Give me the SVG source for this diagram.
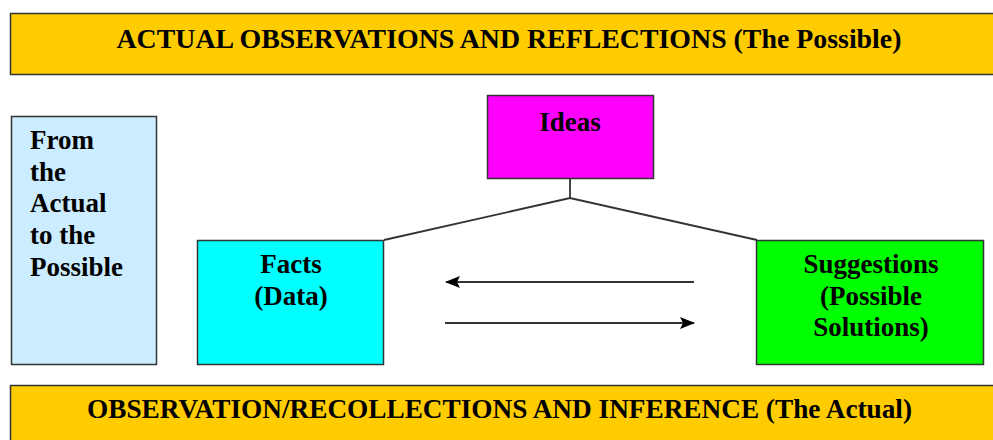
<svg xmlns="http://www.w3.org/2000/svg" width="993" height="440" viewBox="0 0 993 440">
  <style>
    .box { stroke: #333333; stroke-width: 1.5; }
    .banner { fill: #FFCC00; }
    .lbl { font-family: "Liberation Serif", "Times New Roman", serif; font-weight: bold; font-size: 27px; fill: #000000; }
    .mid { text-anchor: middle; }
    .conn { stroke: #333333; stroke-width: 1.8; fill: none; }
  </style>
  <defs>
    <marker id="arrow" viewBox="0 0 15 12" refX="14" refY="6" markerWidth="15" markerHeight="12" markerUnits="userSpaceOnUse" orient="auto">
      <path d="M0,0 L15,6 L0,12 L3,6 Z" fill="#000000"/>
    </marker>
  </defs>
  <rect width="993" height="440" fill="#FFFFFF"/>

  <g id="banner-top">
    <rect class="box banner" x="10.5" y="13.5" width="990" height="61"/>
    <text class="lbl mid" x="509" y="48" textLength="785" lengthAdjust="spacingAndGlyphs">ACTUAL OBSERVATIONS AND REFLECTIONS (The Possible)</text>
  </g>

  <g id="side-note">
    <rect class="box" x="11.5" y="116.5" width="145" height="248" fill="#CCECFF"/>
    <text class="lbl" x="30" y="149">From</text>
    <text class="lbl" x="30" y="181">the</text>
    <text class="lbl" x="30" y="212">Actual</text>
    <text class="lbl" x="30" y="244">to the</text>
    <text class="lbl" x="30" y="276">Possible</text>
  </g>

  <g id="connectors">
    <polyline class="conn" points="570,179 570,198"/>
    <polyline class="conn" points="384,240 570,198 757,240"/>
    <line class="conn" x1="694" y1="282" x2="446" y2="282" marker-end="url(#arrow)"/>
    <line class="conn" x1="445" y1="323" x2="694" y2="323" marker-end="url(#arrow)"/>
  </g>

  <g id="ideas">
    <rect class="box" x="487.5" y="95.5" width="166" height="83" fill="#FF00FF"/>
    <text class="lbl mid" x="570" y="131">Ideas</text>
  </g>

  <g id="facts">
    <rect class="box" x="197.5" y="240.5" width="186" height="124" fill="#00FFFF"/>
    <text class="lbl mid" x="291" y="273">Facts</text>
    <text class="lbl mid" x="291" y="305">(Data)</text>
  </g>

  <g id="suggestions">
    <rect class="box" x="756.5" y="240.5" width="227" height="124" fill="#00FF00"/>
    <text class="lbl mid" x="871" y="273">Suggestions</text>
    <text class="lbl mid" x="871" y="305">(Possible</text>
    <text class="lbl mid" x="871" y="336">Solutions)</text>
  </g>

  <g id="banner-bottom">
    <rect class="box banner" x="10.5" y="385.5" width="990" height="70"/>
    <text class="lbl mid" x="499.5" y="418" textLength="825" lengthAdjust="spacingAndGlyphs">OBSERVATION/RECOLLECTIONS AND INFERENCE (The Actual)</text>
  </g>
</svg>
